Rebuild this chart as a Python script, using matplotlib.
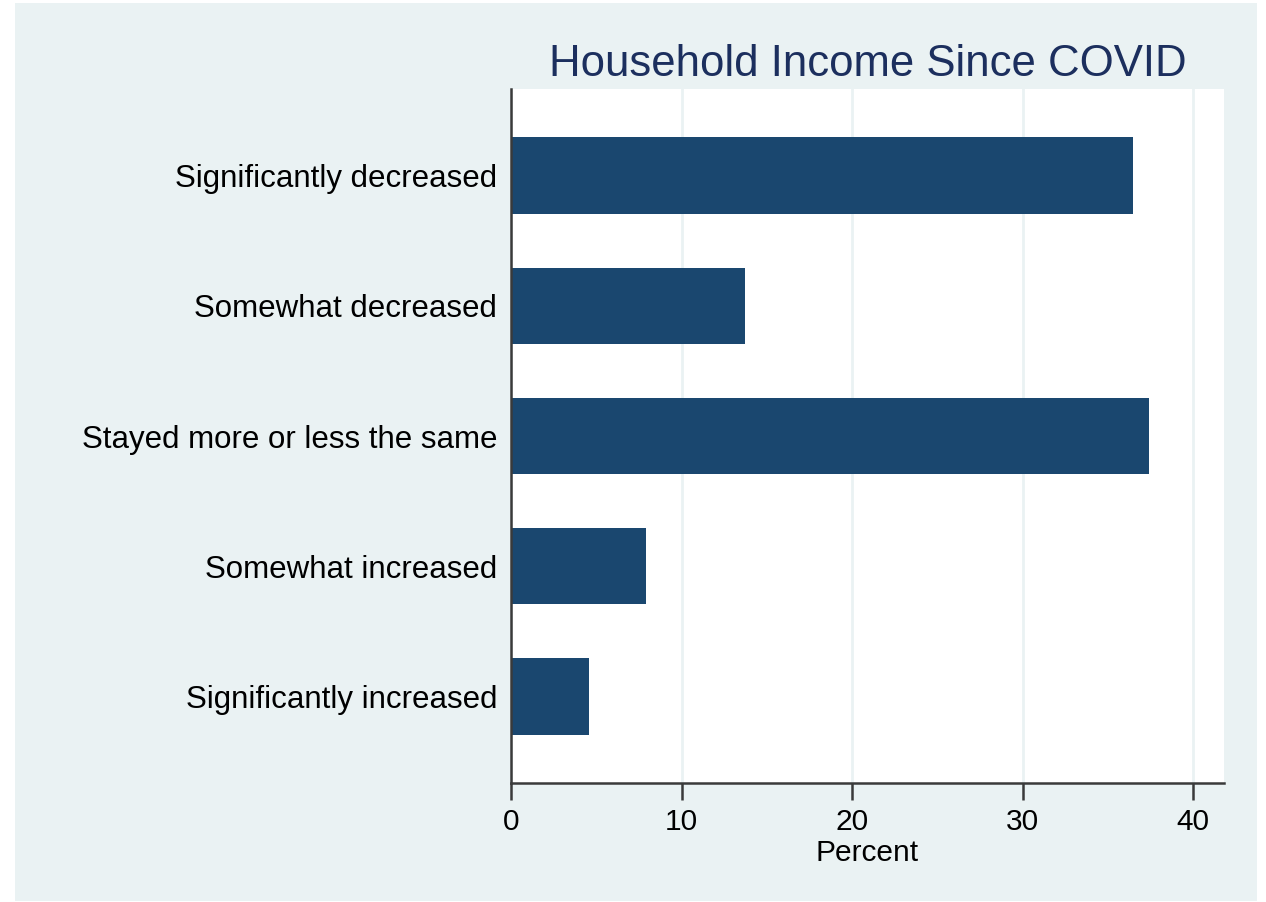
import matplotlib
matplotlib.use("Agg")
import matplotlib.pyplot as plt
from matplotlib.patches import Rectangle

categories = ["Significantly decreased", "Somewhat decreased", "Stayed more or less the same",
              "Somewhat increased", "Significantly increased"]
values = [36.5, 13.7, 37.4, 7.9, 4.6]
xticks = [0, 10, 20, 30, 40]

W, H = 1266, 902
fig = plt.figure(figsize=(W / 100, H / 100), dpi=100)
fig.patch.set_facecolor("white")
bg = "#eaf2f3"
fig.add_artist(Rectangle((15 / W, 1 - 901 / H), (1257 - 15) / W, (901 - 3) / H,
                         transform=fig.transFigure, facecolor=bg, edgecolor="none", zorder=0))

left, right, top, bottom = 511, 1224, 89, 783
ax = fig.add_axes([left / W, 1 - bottom / H, (right - left) / W, (bottom - top) / H])
ax.set_facecolor("white")
ax.set_zorder(1)

navy = "#1a476f"
pos = list(range(len(categories)))
ax.barh(pos, values, height=0.59, color=navy, edgecolor="none", zorder=2)
ax.set_ylim(4.667, -0.667)
ax.set_xlim(0, (right - left) / 17.05)
ax.set_xticks(xticks)
ax.set_xticklabels([str(t) for t in xticks])
ax.set_yticks(pos)
ax.set_yticklabels(categories)
ax.grid(axis="x", color=bg, linewidth=2, zorder=1)
ax.set_axisbelow(True)

font = "Liberation Sans"
for sp in ["top", "right"]:
    ax.spines[sp].set_visible(False)
for sp in ["left", "bottom"]:
    ax.spines[sp].set_color("#3a3a3a")
    ax.spines[sp].set_linewidth(1.8)
ax.tick_params(axis="y", length=0, pad=10, labelsize=22.5, labelcolor="black")
ax.tick_params(axis="x", length=12, width=1.8, color="#3a3a3a", pad=6, labelsize=21.5, labelcolor="black")
for lab in ax.get_xticklabels() + ax.get_yticklabels():
    lab.set_fontfamily(font)

ax.set_xlabel("Percent", fontsize=21.5, family=font, color="black", labelpad=2.5)
ax.set_title("Household Income Since COVID", fontsize=31.5, family=font, color="#1c2f5e", pad=9)

fig.savefig("out.png", dpi=100, facecolor="white")
